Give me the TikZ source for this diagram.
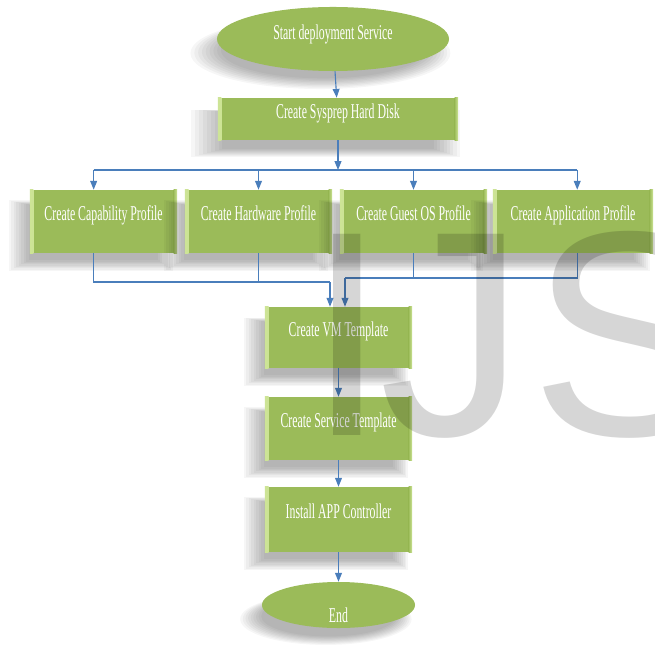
\documentclass[tikz,border=0pt]{standalone}
\usepackage{fontspec}
\newfontfamily\flowfont[FakeStretch=0.56]{Liberation Serif}
\newfontfamily\markfont{Liberation Sans}
\usetikzlibrary{arrows.meta,positioning,calc,shapes.geometric,shadows}
\definecolor{boxgreen}{RGB}{155,187,89}
\definecolor{bevelgreen}{RGB}{205,228,150}
\definecolor{arrowblue}{RGB}{74,126,187}
\newcommand{\lowertext}[2]{\raisebox{#1}[\height][\depth]{#2}}
\tikzset{
  softlayer/.style={general shadow={shadow xshift=-8pt, shadow yshift=-9pt, shadow scale=#1, fill=black, opacity=0.035}},
  flowshadow/.style={softlayer=1.12, softlayer=1.09, softlayer=1.06, softlayer=1.03, softlayer=1.0,
    softlayer=0.97, softlayer=0.94, softlayer=0.91, softlayer=0.88},
  stepbox/.style={rectangle, fill=boxgreen, flowshadow, text=white, inner sep=0pt,
    font=\flowfont\fontsize{15}{17}\selectfont, text height=8pt, text depth=9pt,
    path picture={
      \shade[left color=bevelgreen, right color=boxgreen] (path picture bounding box.south west) rectangle ([xshift=2.5pt]path picture bounding box.north west);
      \shade[left color=boxgreen, right color=bevelgreen] ([xshift=-2.5pt]path picture bounding box.south east) rectangle (path picture bounding box.north east);
    }},
  endnode/.style={ellipse, fill=boxgreen, flowshadow, text=white, inner sep=0pt,
    font=\flowfont\fontsize{15}{17}\selectfont},
  arc/.style={-{Triangle[length=2.2mm, width=1.7mm]}, line width=0.8pt, draw=arrowblue},
  bus/.style={line width=0.8pt, draw=arrowblue},
  watermark/.style={anchor=base west, inner sep=0pt, text=black, text opacity=0.16, font=\markfont\fontsize{208}{208}\selectfont}
}

\begin{document}
\begin{tikzpicture}[x=0.025cm, y=-0.025cm]
  \useasboundingbox (0,0) rectangle (654,655);
  \fill[white] (0,0) rectangle (654,655);

  \node[endnode, minimum width=5.8cm, minimum height=1.6cm] (start) at (333,39) {\lowertext{3pt}{Start deployment Service}};
  \node[stepbox, minimum width=6cm, minimum height=1.05cm] (sysprep) at (338,119) {Create Sysprep Hard Disk};

  \node[stepbox, minimum width=3.675cm, minimum height=1.575cm] (cap) at (103.5,221.5) {Create Capability Profile};
  \node[stepbox, minimum width=3.675cm, minimum height=1.575cm] (hard) at (258.5,221.5) {Create Hardware Profile};
  \node[stepbox, minimum width=3.675cm, minimum height=1.575cm] (guest) at (413.5,221.5) {Create Guest OS Profile};
  \node[stepbox, minimum width=4cm, minimum height=1.575cm] (app) at (573,221.5) {Create Application Profile};

  \node[stepbox, minimum width=3.675cm, minimum height=1.525cm] (vm) at (338.5,337.5) {Create VM Template};
  \node[stepbox, minimum width=3.675cm, minimum height=1.575cm] (service) at (338.5,428.5) {Create Service Template};
  \node[stepbox, minimum width=3.675cm, minimum height=1.625cm] (install) at (338.5,519.5) {Install APP Controller};
  \node[endnode, minimum width=3.825cm, minimum height=1.15cm] (end) at (338.5,605) {\lowertext{-7pt}{End}};

  \coordinate (topbus) at (336,170);
  \coordinate (capin) at ([xshift=-7pt]cap.north);
  \coordinate (appin) at ([xshift=3pt]app.north);
  \coordinate (capout) at ([xshift=-7pt]cap.south);
  \coordinate (appout) at ([xshift=3pt]app.south);
  \coordinate (lowbusl) at (330,282);
  \coordinate (lowbusr) at (345,278);

  \draw[arc] (start) -- (sysprep);
  \draw[arc] (sysprep.south) -- (sysprep.south |- topbus);
  \draw[bus] (capin |- topbus) -- (appin |- topbus);
  \draw[arc] (capin |- topbus) -- (capin);
  \draw[arc] (hard.north |- topbus) -- (hard.north);
  \draw[arc] (guest.north |- topbus) -- (guest.north);
  \draw[arc] (appin |- topbus) -- (appin);

  \draw[bus] (capout) |- (lowbusl);
  \draw[bus] (hard.south) -- (hard.south |- lowbusl);
  \draw[arc] (lowbusl) -- (lowbusl |- vm.north);
  \draw[bus] (appout) |- (lowbusr);
  \draw[bus] (guest.south) -- (guest.south |- lowbusr);
  \draw[arc] (lowbusr) -- (lowbusr |- vm.north);

  \draw[arc] (vm) -- (service);
  \draw[arc] (service) -- (install);
  \draw[arc] (install) -- (end);

  \begin{scope}
    \clip (0,0) rectangle (654,655);
    \node[watermark] (mark) at (306,435) {I\kern-6pt J\kern4pt S};
  \end{scope}
\end{tikzpicture}
\end{document}
